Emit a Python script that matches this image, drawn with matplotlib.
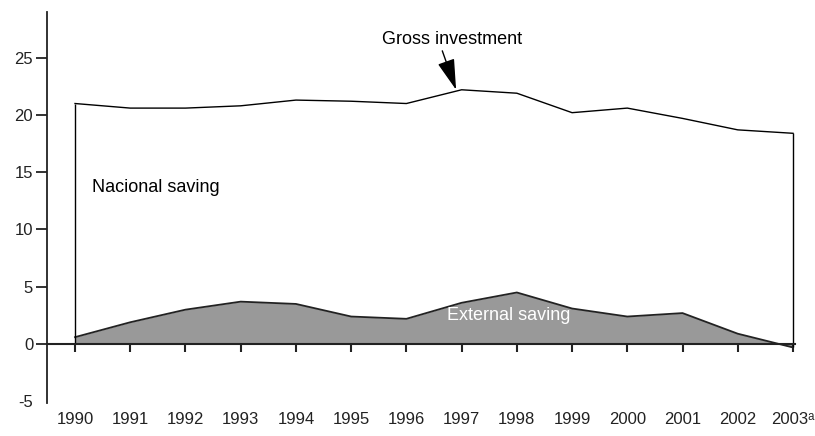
import numpy as np
import matplotlib
matplotlib.use("Agg")
import matplotlib.pyplot as plt

plt.rcParams['font.family'] = ['Liberation Sans', 'DejaVu Sans']

# data (percent of GDP)
years = ["1990", "1991", "1992", "1993", "1994", "1995", "1996",
         "1997", "1998", "1999", "2000", "2001", "2002", "2003\u1d43"]
gross_investment = [21.0, 20.6, 20.6, 20.8, 21.3, 21.2, 21.0,
                    22.2, 21.9, 20.2, 20.6, 19.7, 18.7, 18.4]
external_saving = [0.6, 1.9, 3.0, 3.7, 3.5, 2.4, 2.2,
                   3.6, 4.5, 3.1, 2.4, 2.7, 0.9, -0.3]

x = np.arange(len(years))

fig = plt.figure(figsize=(8.15, 4.36), dpi=100)
ax = fig.add_axes([0.0577, 0.0757, 0.918, 0.897])

# external saving, grey area
ax.fill_between(x, 0, external_saving, color="#999999", lw=0, zorder=1)
ax.plot(x, external_saving, color="#222222", lw=1.3, zorder=2)

# gross investment outline
ax.plot(x, gross_investment, color="black", lw=1.0, zorder=2)
ax.vlines(x[0], 0, gross_investment[0], color="black", lw=1.0, zorder=2)
ax.vlines(x[-1], external_saving[-1], gross_investment[-1], color="black", lw=1.0, zorder=2)

ax.set_xlim(-0.507, 13.04)
ax.set_ylim(-5.15, 29.0)

ax.spines['top'].set_visible(False)
ax.spines['right'].set_visible(False)
ax.spines['bottom'].set_position(('data', 0))
ax.spines['bottom'].set_linewidth(1.5)
ax.spines['bottom'].set_color("#222222")
ax.spines['left'].set_linewidth(1.3)
ax.spines['left'].set_color("#222222")

ax.set_xticks(x)
ax.set_xticklabels(years, fontsize=12)
ax.tick_params(axis='x', direction='out', length=6, width=1.5, pad=43, colors="#222222")
ax.set_yticks([-5, 0, 5, 10, 15, 20, 25])
ax.set_yticklabels(["-5", "0", "5", "10", "15", "20", "25"], fontsize=12)
ax.tick_params(axis='y', direction='out', length=8, width=1.3, pad=2, colors="#222222")
ax.yaxis.get_major_ticks()[0].tick1line.set_visible(False)

ax.text(6.83, 26.6, "Gross investment", fontsize=13, ha="center", va="center")
ax.annotate("", xy=(6.9, 22.2), xytext=(6.65, 25.6),
            arrowprops=dict(arrowstyle="-|>,head_length=1.6,head_width=0.45",
                            color="black", lw=1.0, mutation_scale=12,
                            shrinkA=0, shrinkB=0))
ax.text(0.31, 13.7, "Nacional saving", fontsize=13, ha="left", va="center")
ax.text(6.74, 2.5, "External saving", fontsize=13, ha="left", va="center", color="white")

fig.savefig("out.png", dpi=100)
